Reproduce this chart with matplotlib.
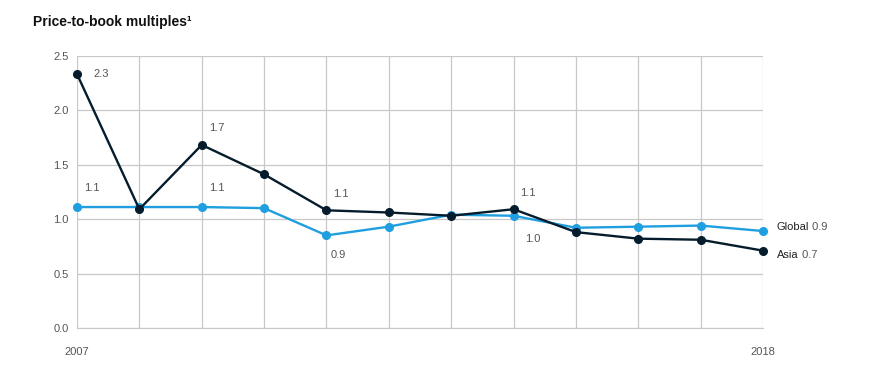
import matplotlib
matplotlib.use("Agg")
import matplotlib.pyplot as plt

plt.rcParams['font.family'] = ['Liberation Sans', 'DejaVu Sans']

years = list(range(2007, 2019))
asia = [2.33, 1.09, 1.68, 1.41, 1.08, 1.06, 1.03, 1.09, 0.88, 0.82, 0.81, 0.71]
global_ = [1.11, 1.11, 1.11, 1.10, 0.85, 0.93, 1.04, 1.03, 0.92, 0.93, 0.94, 0.89]

# point labels: (year, value, text, dx, dy)
asia_labels = [(2007, 2.33, "2.3", 12, 0), (2009, 1.68, "1.7", 5, 12),
               (2011, 1.08, "1.1", 5, 12), (2014, 1.09, "1.1", 5, 12)]
global_labels = [(2007, 1.11, "1.1", 5, 14), (2009, 1.11, "1.1", 5, 14),
                 (2011, 0.85, "0.9", 3, -14), (2014, 1.03, "1.0", 8, -17)]

NAVY = "#051c2c"
CYAN = "#1f9fe0"
GRID = "#c8c8c8"
TXT = "#555555"

fig = plt.figure(figsize=(8.71, 3.69), dpi=100)
ax = fig.add_axes([0.0884, 0.111, 0.7876, 0.7385])

ax.plot(years, global_, color=CYAN, lw=1.7, marker="o", ms=5.5, clip_on=False, zorder=3)
ax.plot(years, asia, color=NAVY, lw=1.7, marker="o", ms=5.5, clip_on=False, zorder=4)

for x, y, t, dx, dy in asia_labels + global_labels:
    ax.annotate(t, (x, y), xytext=(dx, dy), textcoords="offset points",
                ha="left", va="center", fontsize=8, color=TXT)

# end-of-line series labels: name in dark, value in grey right after it
for name, vals, dy in [("Global", global_, 3), ("Asia", asia, -3)]:
    lab = ax.annotate(name, (years[-1], vals[-1]), xytext=(10, dy), textcoords="offset points",
                      ha="left", va="center", fontsize=8, color="#222222")
    ax.annotate(" %.1f" % vals[-1], xy=(1, 0.5), xycoords=lab, ha="left", va="center",
                fontsize=8, color=TXT)

ax.set_xlim(2007, 2018)
ax.set_ylim(0, 2.5)
ax.set_xticks(years)
ax.set_xticklabels(["2007"] + [""] * 10 + ["2018"])
ax.set_yticks([0, 0.5, 1.0, 1.5, 2.0, 2.5])
ax.set_yticklabels(["0.0", "0.5", "1.0", "1.5", "2.0", "2.5"])
ax.grid(True, color=GRID, lw=0.9)
ax.set_axisbelow(True)
for s in ["top", "right", "left"]:
    ax.spines[s].set_visible(False)
ax.spines["bottom"].set_color(GRID)
ax.tick_params(length=0, labelsize=8, labelcolor=TXT)
ax.tick_params(axis="x", pad=14)
ax.tick_params(axis="y", pad=6)

fig.text(0.038, 0.94, "Price-to-book multiples\u00b9", fontsize=10, fontweight="bold",
         color="#111111", ha="left", va="center")

fig.savefig("out.png", dpi=100)
